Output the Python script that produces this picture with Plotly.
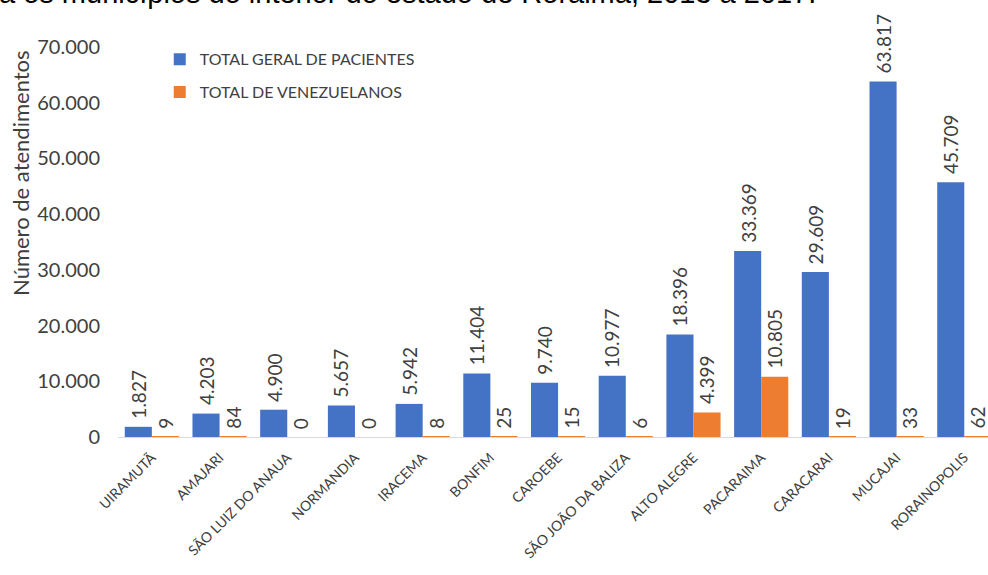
import plotly.graph_objects as go

# Municípios do interior de Roraima (eixo X)
municipios = [
    "UIRAMUTÃ", "AMAJARI", "SÃO LUIZ DO ANAUA", "NORMANDIA", "IRACEMA",
    "BONFIM", "CAROEBE", "SÃO JOÃO DA BALIZA", "ALTO ALEGRE", "PACARAIMA",
    "CARACARAI", "MUCAJAI", "RORAINOPOLIS",
]

# Total geral de pacientes atendidos por município
total_geral = [1827, 4203, 4900, 5657, 5942, 11404, 9740, 10977, 18396,
               33369, 29609, 63817, 45709]

# Total de pacientes venezuelanos por município
total_venezuelanos = [9, 84, 0, 0, 8, 25, 15, 6, 4399, 10805, 19, 33, 62]

y_ticks = [0, 10000, 20000, 30000, 40000, 50000, 60000, 70000]

AZUL = "#4472C4"
LARANJA = "#ED7D31"
TEXTO = "#404040"
FONTE = "Lato, 'Open Sans', sans-serif"

# Geometria do eixo X (pixels) usada para deslocar os rótulos de cada barra
L_MARGIN, PLOT_W = 118, 870
X_RANGE = [-0.5, 12.35]
BARGAP = 0.2
cat_px = PLOT_W / (X_RANGE[1] - X_RANGE[0])
bar_px = cat_px * (1 - BARGAP) / 2


def fmt(v):
    return f"{v:,}".replace(",", ".")


fig = go.Figure()

fig.add_trace(go.Bar(
    x=municipios, y=total_geral, name="TOTAL GERAL DE PACIENTES",
    marker=dict(color=AZUL, line=dict(width=0)), legendgroup="a",
))
fig.add_trace(go.Bar(
    x=municipios, y=total_venezuelanos, name="TOTAL DE VENEZUELANOS",
    marker=dict(color=LARANJA, line=dict(width=0)), legendgroup="b",
))

# Rótulos de valor, verticais, acima de cada barra
for serie, sinal in ((total_geral, -1), (total_venezuelanos, 1)):
    for m, v in zip(municipios, serie):
        fig.add_annotation(
            x=m, y=v, text=fmt(v), showarrow=False, textangle=-90,
            xanchor="center", yanchor="bottom",
            xshift=sinal * bar_px / 2, yshift=6,
            font=dict(family=FONTE, size=19, color=TEXTO),
        )

fig.update_layout(
    width=988, height=575,
    margin=dict(l=L_MARGIN, r=0, t=47, b=138),
    paper_bgcolor="white", plot_bgcolor="white",
    separators=",.",
    barmode="group", bargap=BARGAP, bargroupgap=0,
    font=dict(family=FONTE, color=TEXTO),
    showlegend=True,
    legend=dict(
        x=0.048, y=1.012, xanchor="left", yanchor="top",
        bgcolor="rgba(0,0,0,0)", font=dict(size=16, color=TEXTO),
        tracegroupgap=9,
    ),
    xaxis=dict(
        range=X_RANGE, tickangle=-45,
        tickfont=dict(family=FONTE, size=14, color=TEXTO),
        showline=True, linecolor="#d9d9d9", linewidth=1,
        ticks="", showgrid=False, ticklabelstandoff=6,
    ),
    yaxis=dict(
        range=[0, 70000], tickvals=y_ticks, tickformat=",",
        tickfont=dict(family=FONTE, size=20, color=TEXTO),
        showgrid=False, zeroline=False, showline=False, ticks="",
        ticklabelstandoff=17,
    ),
)

# Título do eixo Y
fig.add_annotation(
    text="Número de atendimentos", textangle=-90,
    xref="paper", yref="paper", x=-0.1115, y=0.677,
    xanchor="center", yanchor="middle", showarrow=False,
    font=dict(family=FONTE, size=22, color=TEXTO),
)

# Legenda da figura (linha superior, parcialmente cortada pela borda)
fig.add_annotation(
    text="a os municípios do interior do estado de Roraima, 2013 a 2017.",
    xref="paper", yref="paper", x=-0.139, y=1.092,
    xanchor="left", yanchor="bottom", showarrow=False,
    font=dict(family="Liberation Sans, Arial, sans-serif", size=29, color="black"),
)

fig.write_html("out.html")
